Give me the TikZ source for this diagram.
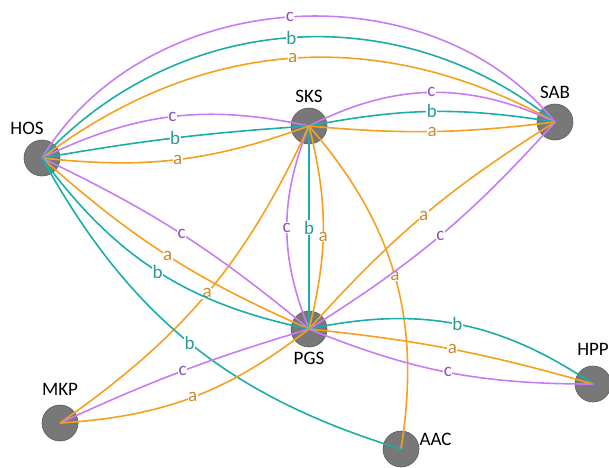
\documentclass[tikz,border=0pt]{standalone}
\usepackage{fontspec}
\setmainfont{Carlito}
\usepackage{xcolor}
\usepackage{tikz}
\usetikzlibrary{positioning}

\definecolor{purpline}{HTML}{C77CF6}
\definecolor{purptext}{HTML}{8C52C0}
\definecolor{tealline}{HTML}{1CADA7}
\definecolor{tealtext}{HTML}{2A9A98}
\definecolor{orline}{HTML}{F5A11F}
\definecolor{ortext}{HTML}{C98A30}

\begin{document}
\begin{tikzpicture}[
    x=1pt, y=-1pt,
    site/.style={circle, draw=black!65, fill=black!53, line width=0.6pt, minimum size=36pt, inner sep=0pt},
    sitename/.style={font=\fontsize{19}{22}\selectfont, inner sep=0pt},
    link/.style={line width=1.6pt},
    la/.style={link, draw=orline},
    lb/.style={link, draw=tealline},
    lc/.style={link, draw=purpline},
    tag/.style={fill=white, inner sep=0.5pt, font=\fontsize{19}{20}\selectfont},
    ta/.style={tag, text=ortext},
    tb/.style={tag, text=tealtext},
    tc/.style={tag, text=purptext},
]
\useasboundingbox (0,0) rectangle (609,467);

% ===== Sites =====
\node[site] (HOS) at (42,158) {};
\node[site] (SKS) at (309,126) {};
\node[site] (SAB) at (555,122) {};
\node[site] (PGS) at (309,329) {};
\node[site] (MKP) at (60,423) {};
\node[site] (AAC) at (401,449) {};
\node[site] (HPP) at (593,384) {};

\node[sitename, above=5pt of HOS, xshift=-15pt] {HOS};
\node[sitename, above=5pt of SKS] {SKS};
\node[sitename, above=5pt of SAB] {SAB};
\node[sitename, below=5pt of PGS] {PGS};
\node[sitename, above=9pt of MKP] {MKP};
\node[sitename, right=0pt of AAC, yshift=10pt] {AAC};
\node[sitename, above=10pt of HPP] {HPP};

% ===== HOS -- SAB =====
\draw[lc] (HOS.center) to[bend left=55] node[tc] {c} (SAB.center);
\draw[lb] (HOS.center) to[bend left=43] node[tb] {b} (SAB.center);
\draw[la] (HOS.center) to[bend left=33] node[ta] {a} (SAB.center);

% ===== HOS -- SKS =====
\draw[lc] (HOS.center) to[bend left=19] node[tc] {c} (SKS.center);
\draw[lb] (HOS.center) to[bend left=3] node[tb] {b} (SKS.center);
\draw[la] (HOS.center) to[bend right=13] node[ta] {a} (SKS.center);

% ===== SKS -- SAB =====
\draw[lc] (SKS.center) to[bend left=26] node[tc] {c} (SAB.center);
\draw[lb] (SKS.center) to[bend left=10] node[tb] {b} (SAB.center);
\draw[la] (SKS.center) to[bend right=6] node[ta] {a} (SAB.center);

% ===== SKS -- PGS =====
\draw[lc] (SKS.center) to[bend right=22] node[tc] {c} (PGS.center);
\draw[lb] (SKS.center) to node[tb] {b} (PGS.center);
\draw[la] (SKS.center) to[bend left=14] node[ta, pos=0.55] {a} (PGS.center);

% ===== SKS -- AAC, SKS -- MKP =====
\draw[la] (SKS.center) to[bend left=25] node[ta] {a} (AAC.center);
\draw[la] (SKS.center) to[bend left=15] node[ta] {a} (MKP.center);

% ===== HOS -- PGS, HOS -- AAC =====
\draw[lc] (HOS.center) to[bend left=7] node[tc] {c} (PGS.center);
\draw[la] (HOS.center) to[bend right=9] node[ta] {a} (PGS.center);
\draw[lb] (HOS.center) to[bend right=21] node[tb] {b} (PGS.center);
\draw[lb] (HOS.center) to[bend right=22] node[tb] {b} (AAC.center);

% ===== PGS -- SAB =====
\draw[la] (PGS.center) to[bend left=8] node[ta] {a} (SAB.center);
\draw[lc] (PGS.center) to[bend right=8] node[tc] {c} (SAB.center);

% ===== PGS -- HPP =====
\draw[lb] (PGS.center) to[bend left=23] node[tb] {b} (HPP.center);
\draw[la] (PGS.center) to[bend left=5] node[ta] {a} (HPP.center);
\draw[lc] (PGS.center) to[bend right=11] node[tc] {c} (HPP.center);

% ===== PGS -- MKP =====
\draw[lc] (PGS.center) to[bend right=4] node[tc] {c} (MKP.center);
\draw[la] (PGS.center) to[bend left=17] node[ta] {a} (MKP.center);

\end{tikzpicture}
\end{document}
